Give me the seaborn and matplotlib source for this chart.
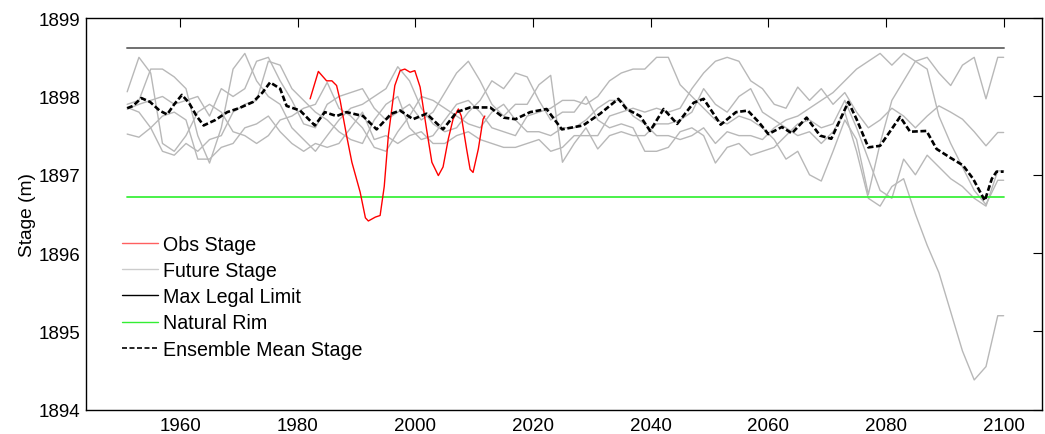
import numpy as np
import pandas as pd
import matplotlib
matplotlib.use("Agg")
import matplotlib.pyplot as plt
import seaborn as sns

# ---------------- data ----------------
future_years = list(range(1951, 2100, 2)) + [2100]

member_1 = [1898.06, 1898.50, 1898.30, 1897.40, 1897.30, 1897.50, 1897.80, 1897.90, 1897.80, 1897.55,
            1897.50, 1897.40, 1897.50, 1897.70, 1897.75, 1897.85, 1897.90, 1898.18, 1897.85, 1897.75,
            1897.60, 1897.35, 1897.30, 1897.55, 1897.75, 1898.00, 1897.95, 1897.85, 1897.75, 1897.65,
            1897.60, 1897.80, 1897.90, 1897.70, 1897.55, 1897.55, 1897.50, 1897.60, 1897.60, 1897.70,
            1897.85, 1897.95, 1897.95, 1897.75, 1897.65, 1897.50, 1897.50, 1897.45, 1897.50, 1897.60,
            1897.40, 1897.55, 1897.50, 1897.50, 1897.45, 1897.60, 1897.70, 1897.75, 1897.85, 1897.95,
            1898.05, 1898.20, 1898.35, 1898.45, 1898.55, 1898.40, 1898.55, 1898.45, 1898.50, 1898.30,
            1898.14, 1898.40, 1898.50, 1897.97, 1898.50, 1898.50]
member_2 = [1897.90, 1897.95, 1898.35, 1898.35, 1898.25, 1898.10, 1897.50, 1897.15, 1897.60, 1898.35,
            1898.55, 1898.20, 1898.00, 1897.90, 1897.60, 1897.45, 1897.30, 1897.50, 1897.70, 1897.85,
            1897.90, 1898.00, 1898.10, 1898.38, 1898.20, 1897.85, 1897.65, 1897.55, 1897.60, 1897.80,
            1897.95, 1898.20, 1898.10, 1898.30, 1898.25, 1897.95, 1897.70, 1897.80, 1897.80, 1898.00,
            1897.70, 1897.60, 1897.65, 1897.60, 1897.30, 1897.30, 1897.35, 1897.55, 1897.60, 1897.50,
            1897.15, 1897.35, 1897.40, 1897.25, 1897.30, 1897.35, 1897.50, 1897.65, 1897.70, 1897.60,
            1897.65, 1897.95, 1897.60, 1897.20, 1896.80, 1896.70, 1897.20, 1897.00, 1897.25, 1897.10,
            1896.95, 1896.85, 1896.70, 1896.60, 1897.05, 1897.05]
member_3 = [1897.86, 1897.80, 1897.60, 1897.30, 1897.25, 1897.40, 1897.30, 1897.45, 1897.50, 1897.80,
            1897.90, 1897.95, 1898.45, 1898.40, 1898.10, 1897.95, 1897.80, 1897.70, 1897.55, 1897.45,
            1897.40, 1897.70, 1897.90, 1898.00, 1897.60, 1897.45, 1897.50, 1897.70, 1897.90, 1897.95,
            1897.80, 1897.60, 1897.55, 1897.50, 1897.75, 1897.80, 1897.85, 1897.95, 1897.95, 1897.90,
            1898.00, 1898.20, 1898.30, 1898.35, 1898.35, 1898.50, 1898.50, 1898.15, 1898.00, 1897.85,
            1897.70, 1897.65, 1897.75, 1897.70, 1897.60, 1897.45, 1897.20, 1897.30, 1897.00, 1896.92,
            1897.30, 1897.70, 1897.45, 1896.75, 1897.40, 1897.95, 1898.20, 1898.45, 1898.35, 1897.75,
            1897.40, 1897.10, 1896.80, 1896.62, 1896.93, 1896.93]
member_4 = [1897.84, 1897.90, 1897.95, 1898.00, 1897.90, 1897.95, 1898.00, 1897.75, 1898.10, 1898.00,
            1898.10, 1898.45, 1898.50, 1898.20, 1897.95, 1897.65, 1897.60, 1897.90, 1898.00, 1898.05,
            1898.10, 1897.85, 1897.70, 1897.80, 1897.90, 1897.70, 1897.80, 1898.05, 1898.30, 1898.45,
            1898.20, 1897.90, 1897.75, 1897.90, 1897.90, 1898.15, 1898.27, 1897.16, 1897.40, 1897.60,
            1897.33, 1897.50, 1897.55, 1897.50, 1897.50, 1897.65, 1897.65, 1897.70, 1897.80, 1898.10,
            1897.90, 1897.80, 1898.00, 1898.10, 1897.80, 1897.70, 1897.60, 1897.50, 1897.55, 1897.40,
            1897.55, 1897.80, 1897.30, 1896.70, 1896.60, 1896.85, 1896.95, 1896.50, 1896.10, 1895.75,
            1895.25, 1894.75, 1894.38, 1894.55, 1895.20, 1895.20]
member_5 = [1897.52, 1897.48, 1897.60, 1897.75, 1897.80, 1897.70, 1897.20, 1897.20, 1897.35, 1897.40,
            1897.60, 1897.65, 1897.75, 1897.55, 1897.40, 1897.30, 1897.40, 1897.35, 1897.40, 1897.60,
            1897.80, 1897.45, 1897.50, 1897.40, 1897.50, 1897.55, 1897.40, 1897.40, 1897.50, 1897.55,
            1897.45, 1897.40, 1897.35, 1897.35, 1897.40, 1897.45, 1897.30, 1897.35, 1897.50, 1897.50,
            1897.50, 1897.75, 1897.80, 1897.85, 1897.80, 1897.85, 1897.80, 1897.85, 1898.10, 1898.30,
            1898.45, 1898.50, 1898.45, 1898.20, 1898.10, 1897.90, 1897.85, 1898.12, 1897.95, 1898.10,
            1897.90, 1898.05, 1897.80, 1897.60, 1897.70, 1897.85, 1897.75, 1897.60, 1897.75, 1897.88,
            1897.80, 1897.71, 1897.55, 1897.37, 1897.54, 1897.54]

mean_years = [1951.0, 1952.0, 1953.4, 1954.9, 1956.5, 1957.8, 1959.0, 1960.3, 1961.5, 1962.8,
              1964.0, 1966.0, 1968.0, 1970.0, 1972.4, 1974.0, 1975.3, 1977.0, 1978.1, 1980.4,
              1982.9, 1984.6, 1986.6, 1988.3, 1991.1, 1993.4, 1995.9, 1997.4, 1999.6, 2001.9,
              2004.7, 2007.0, 2009.3, 2012.7, 2015.0, 2017.0, 2019.5, 2022.3, 2024.9, 2028.5,
              2031.4, 2034.5, 2035.9, 2038.2, 2039.9, 2042.2, 2044.5, 2047.3, 2049.0, 2051.9,
              2054.5, 2056.5, 2058.4, 2060.0, 2062.3, 2064.0, 2066.5, 2068.8, 2070.7, 2073.6,
              2075.0, 2077.0, 2079.0, 2082.4, 2084.1, 2086.9, 2088.6, 2090.9, 2093.1, 2094.8,
              2096.8, 2098.0, 2098.8, 2100.0]
mean_stage = [1897.85, 1897.88, 1897.98, 1897.93, 1897.82, 1897.77, 1897.90, 1898.02, 1897.92, 1897.75,
              1897.63, 1897.70, 1897.80, 1897.85, 1897.93, 1898.05, 1898.18, 1898.10, 1897.88, 1897.82,
              1897.63, 1897.80, 1897.75, 1897.80, 1897.75, 1897.58, 1897.78, 1897.82, 1897.71, 1897.78,
              1897.58, 1897.80, 1897.86, 1897.86, 1897.73, 1897.71, 1897.80, 1897.84, 1897.58, 1897.63,
              1897.78, 1897.97, 1897.84, 1897.75, 1897.56, 1897.84, 1897.65, 1897.92, 1897.97, 1897.64,
              1897.80, 1897.82, 1897.67, 1897.52, 1897.61, 1897.53, 1897.73, 1897.50, 1897.46, 1897.93,
              1897.71, 1897.35, 1897.37, 1897.74, 1897.55, 1897.56, 1897.33, 1897.22, 1897.12, 1896.95,
              1896.67, 1896.95, 1897.04, 1897.04]

obs_years = [1982.1, 1983.5, 1984.9, 1985.8, 1986.6, 1987.2, 1988.3, 1989.2, 1990.6, 1991.5,
             1992.0, 1993.2, 1994.0, 1994.7, 1995.4, 1996.5, 1997.4, 1998.2, 1999.1, 1999.9,
             2000.8, 2001.9, 2002.8, 2003.9, 2004.7, 2005.6, 2006.4, 2007.3, 2007.8, 2008.7,
             2009.3, 2009.8, 2010.7, 2011.5, 2011.8]
obs_stage = [1897.97, 1898.32, 1898.20, 1898.20, 1898.14, 1897.95, 1897.50, 1897.16, 1896.78, 1896.45,
             1896.41, 1896.46, 1896.48, 1896.85, 1897.50, 1898.14, 1898.33, 1898.35, 1898.31, 1898.33,
             1898.12, 1897.58, 1897.16, 1896.99, 1897.10, 1897.46, 1897.71, 1897.84, 1897.75, 1897.33,
             1897.07, 1897.03, 1897.33, 1897.71, 1897.75]

limit_years = [1951, 2100]
max_legal_limit = 1898.62
natural_rim = 1896.71

x_ticks = [1960, 1980, 2000, 2020, 2040, 2060, 2080, 2100]
y_ticks = [1894, 1895, 1896, 1897, 1898, 1899]

# ---------------- style ----------------
sns.set_theme(style="white")
plt.rcParams['font.family'] = ['Liberation Sans', 'DejaVu Sans']
plt.rcParams['text.color'] = 'black'
plt.rcParams['axes.labelcolor'] = 'black'
plt.rcParams['xtick.color'] = 'black'
plt.rcParams['ytick.color'] = 'black'
plt.rcParams['axes.edgecolor'] = 'black'
plt.rcParams['axes.linewidth'] = 1.0

fig = plt.figure(figsize=(10.45, 4.35), dpi=100)
ax = fig.add_axes([0.0823, 0.0559, 0.9147, 0.9000])

members = [member_1, member_2, member_3, member_4, member_5]
grey_handle = None
for i, m in enumerate(members):
    sns.lineplot(x=future_years, y=m, ax=ax, color='#b8b8b8', lw=1.0, zorder=2,
                 estimator=None, sort=False)
    if i == 0:
        grey_handle = ax.lines[-1]

sns.lineplot(x=obs_years, y=obs_stage, ax=ax, color='#ff0000', lw=1.0, zorder=3,
             estimator=None, sort=False)
obs_handle = ax.lines[-1]

sns.lineplot(x=limit_years, y=[max_legal_limit] * 2, ax=ax, color='#707070', lw=1.4, zorder=2,
             estimator=None)
limit_handle = ax.lines[-1]

sns.lineplot(x=limit_years, y=[natural_rim] * 2, ax=ax, color='#3cf03c', lw=1.3, zorder=2,
             estimator=None)
rim_handle = ax.lines[-1]

sns.lineplot(x=mean_years, y=mean_stage, ax=ax, color='black', lw=1.9, zorder=4,
             estimator=None, sort=False)
mean_handle = ax.lines[-1]
mean_handle.set_dashes((2.2, 1.0))

ax.set_xlim(1944, 2106.5)
ax.set_ylim(1894, 1899)
ax.set_xticks(x_ticks)
ax.set_yticks(y_ticks)
ax.tick_params(axis='both', which='both', direction='in', length=6.5, width=0.8,
               top=True, right=True, labelsize=13.5, colors='black', pad=5)
ax.tick_params(axis='y', pad=4)
for s in ax.spines.values():
    s.set_visible(True)
    s.set_color('black')
    s.set_linewidth(1.0)
ax.set_xlabel('')
ax.set_ylabel('Stage (m)', fontsize=13.8, color='black', labelpad=2)

leg = ax.legend([obs_handle, grey_handle, limit_handle, rim_handle, mean_handle],
                ['Obs Stage', 'Future Stage', 'Max Legal Limit', 'Natural Rim', 'Ensemble Mean Stage'],
                loc='upper left', bbox_to_anchor=(0.0377, 0.447), frameon=False,
                fontsize=14.1, handlelength=1.85, handletextpad=0.22, labelspacing=0.37,
                borderpad=0, borderaxespad=0)
for t in leg.get_texts():
    t.set_color('black')
lh = leg.get_lines()
lh[0].set_color('#ff6060')
lh[1].set_color('#cccccc')
lh[2].set_color('black'); lh[2].set_linewidth(1.0)
lh[3].set_color('#33ee33'); lh[3].set_linewidth(1.0)
lh[4].set_linewidth(1.2); lh[4].set_dashes((3, 1.5))

fig.savefig('out.png', dpi=100)
